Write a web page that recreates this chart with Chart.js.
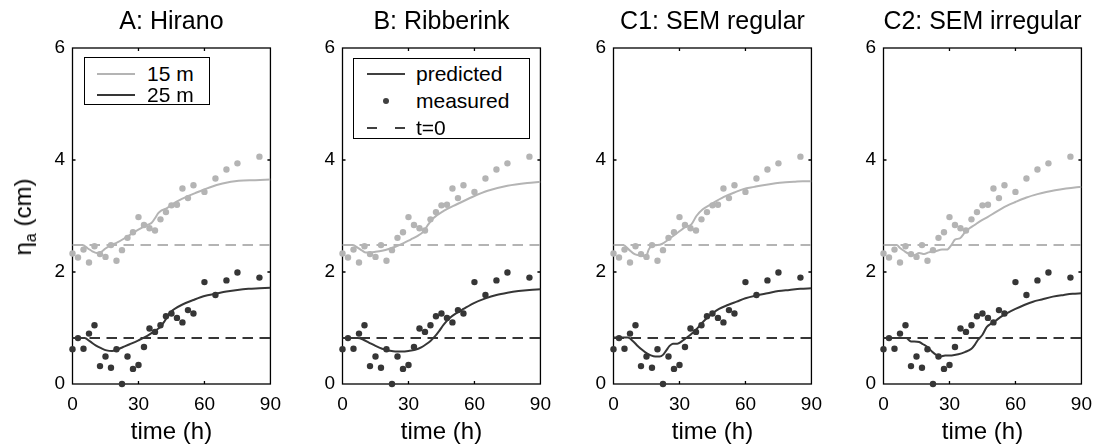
<!DOCTYPE html>
<html><head><meta charset="utf-8">
<script src="https://cdn.jsdelivr.net/npm/chart.js@4.4.0/dist/chart.umd.min.js"></script>
<style>
body{margin:0;background:#fff;width:1101px;height:447px;overflow:hidden;position:relative;font-family:"Liberation Sans",Arial,Helvetica,sans-serif;color:#000}
canvas{position:absolute;top:0}
.lg{position:absolute;border:1.3px solid #000;background:#fff;box-sizing:border-box;z-index:5}
.row{position:absolute;left:0;right:0;height:26px;font-size:21px;line-height:26px}
.row span{position:absolute}
.ln{position:absolute;height:0;border-top:2px solid}
.dot{position:absolute;width:6px;height:6px;border-radius:50%}
#ylab{position:absolute;left:23px;top:217px;transform:translate(-50%,-50%) rotate(-90deg);font-size:24px;white-space:nowrap;line-height:28px;z-index:5}
#ylab sub{font-size:16px;vertical-align:-5px;line-height:0}
</style></head><body>
<div id="ylab">η<sub>a</sub> (cm)</div>
<div class="lg" style="left:84px;top:57px;width:126px;height:48px">
  <div class="row" style="top:3px"><div class="ln" style="left:12px;width:38px;top:12px;border-color:#b4b4b4"></div><span style="left:62px">15 m</span></div>
  <div class="row" style="top:24px"><div class="ln" style="left:12px;width:38px;top:12px;border-color:#363636"></div><span style="left:62px">25 m</span></div>
</div>
<div class="lg" style="left:353px;top:58px;width:177px;height:81px">
  <div class="row" style="top:2px"><div class="ln" style="left:13px;width:38px;top:12px;border-color:#404040"></div><span style="left:62px">predicted</span></div>
  <div class="row" style="top:29px"><div class="dot" style="left:29px;top:10px;background:#404040"></div><span style="left:62px">measured</span></div>
  <div class="row" style="top:56px"><div class="ln" style="left:13px;width:10px;top:12px;border-color:#404040"></div><div class="ln" style="left:41px;width:10px;top:12px;border-color:#404040"></div><span style="left:62px">t=0</span></div>
</div>
<script>
// ---- data ----
const panelTitles = ['A: Hirano', 'B: Ribberink', 'C1: SEM regular', 'C2: SEM irregular'];
const xTickVals = [0, 30, 60, 90];
const yTickVals = [0, 2, 4, 6];
const baseline15 = 2.48;
const baseline25 = 0.82;

const measTime = [0,2.5,5,7.5,10,12.5,15,17.5,20,22.5,25,27.5,30,32.5,35,37.5,40,42.5,45,47.5,50,52.5,55,60,65,70,75,85];
const meas15 = [2.33,2.26,2.40,2.17,2.46,2.32,2.27,2.48,2.20,2.39,2.61,2.71,2.98,2.84,2.78,2.74,2.94,3.07,3.19,3.20,3.49,3.32,3.55,3.43,3.67,3.83,3.94,4.06];
const meas25 = [0.62,0.82,0.63,0.90,1.05,0.32,0.49,0.29,0.62,0.00,0.49,0.27,0.34,0.66,0.99,0.93,1.05,1.21,1.26,1.18,1.10,1.32,1.26,1.82,1.59,1.85,1.99,1.90];

const predA15t = [0,4.5,7,9,11,13,15,17.5,20,24,28,31,34,36,37.5,39,40.5,43,45.3,50.5,56.4,62.3,68.2,75.6,83,90];
const predA15v = [2.48,2.48,2.42,2.37,2.34,2.36,2.42,2.48,2.52,2.61,2.71,2.78,2.84,2.88,2.96,3.05,3.10,3.14,3.21,3.32,3.42,3.51,3.58,3.63,3.64,3.65];
const predA25t = [0,5.5,8,10.5,13,15.5,18,20,23,26,30,34,37.5,40,42,44,46,50,55,60,65,70,75,80,85,90];
const predA25v = [0.82,0.82,0.76,0.69,0.64,0.60,0.59,0.61,0.66,0.71,0.78,0.86,0.95,1.02,1.13,1.26,1.33,1.42,1.50,1.57,1.61,1.65,1.68,1.70,1.71,1.72];

const predB15t = [0,4.7,7,9,10.6,13,15,18,21,24,28,31,34,37,39,41,46,52,59,66,75,84,90];
const predB15v = [2.48,2.48,2.43,2.38,2.35,2.35,2.36,2.38,2.41,2.45,2.52,2.58,2.64,2.73,2.85,2.95,3.09,3.21,3.34,3.45,3.54,3.59,3.61];
const predB25t = [0,7,9.5,12,15,18,21,24,27,30,33,36,38,40,42,44,46,48.5,52,55,60,65,70,75,80,85,90];
const predB25v = [0.82,0.82,0.79,0.74,0.68,0.63,0.60,0.58,0.58,0.59,0.61,0.66,0.71,0.77,0.85,0.95,1.06,1.17,1.27,1.34,1.45,1.53,1.59,1.63,1.66,1.68,1.69];

const predC115t = [0,4.4,7,9.6,12.6,14.8,16,17.5,20,22,25,28,30.5,32.5,35.4,37.7,40.6,44.3,50.2,55,59,64,68,73,77,82,86,90];
const predC115v = [2.48,2.48,2.40,2.32,2.29,2.28,2.40,2.47,2.48,2.50,2.58,2.67,2.74,2.80,2.85,3.00,3.12,3.21,3.34,3.42,3.48,3.52,3.55,3.58,3.60,3.61,3.62,3.62];
const predC125t = [0,6.5,9,11,13,15,17,19,21,22.5,24,25.5,27,29,31,33,35,37.5,40,42.5,45,48,52,56,60,65,70,75,80,85,90];
const predC125v = [0.83,0.83,0.76,0.68,0.61,0.55,0.51,0.49,0.49,0.52,0.60,0.68,0.72,0.72,0.76,0.82,0.88,0.97,1.08,1.18,1.26,1.34,1.41,1.47,1.53,1.58,1.62,1.66,1.68,1.70,1.71];

const predC215t = [0,6,7.5,9.6,11.8,14,16.2,18.5,20.5,23.6,26.6,28.8,31,32.5,34.7,36.9,39.1,41.4,44,47.3,51,56,60,65,70,74,78,83,87,90];
const predC215v = [2.48,2.48,2.43,2.37,2.32,2.30,2.34,2.32,2.35,2.37,2.40,2.40,2.49,2.58,2.60,2.70,2.78,2.84,2.91,2.98,3.07,3.18,3.25,3.33,3.39,3.43,3.46,3.49,3.51,3.52];
const predC225t = [0,10.3,12.5,14,16.2,18,20,22,23.6,25.8,28,31,34,37,40,41.5,43,45,47,49,51,53,56,60,64,68,72,77,82,86,90];
const predC225v = [0.82,0.82,0.76,0.76,0.75,0.71,0.66,0.58,0.53,0.49,0.51,0.51,0.53,0.57,0.63,0.70,0.79,0.88,1.02,1.08,1.13,1.19,1.26,1.34,1.41,1.47,1.51,1.56,1.59,1.61,1.62];

const pred15t = [predA15t, predB15t, predC115t, predC215t];
const pred15v = [predA15v, predB15v, predC115v, predC215v];
const pred25t = [predA25t, predB25t, predC125t, predC225t];
const pred25v = [predA25v, predB25v, predC125v, predC225v];

// ---- styling ----
const LIGHT = '#b4b4b4', DARK = '#363636';
const FONT = '"Liberation Sans", Arial, Helvetica, sans-serif';
const pts = (xs, ys) => xs.map((x, i) => ({x, y: ys[i]}));

const framePlugin = {
  id: 'frame',
  beforeDatasetsDraw(chart) {
    const {ctx, chartArea: a, scales: {x, y}} = chart;
    ctx.save();
    ctx.strokeStyle = '#000';
    ctx.lineWidth = 1.3;
    ctx.strokeRect(a.left, a.top, a.right - a.left, a.bottom - a.top);
    ctx.beginPath();
    xTickVals.slice(1, -1).forEach(v => {
      const px = x.getPixelForValue(v);
      ctx.moveTo(px, a.bottom); ctx.lineTo(px, a.bottom - 3);
      ctx.moveTo(px, a.top); ctx.lineTo(px, a.top + 3);
    });
    yTickVals.slice(1, -1).forEach(v => {
      const py = y.getPixelForValue(v);
      ctx.moveTo(a.left, py); ctx.lineTo(a.left + 3, py);
      ctx.moveTo(a.right, py); ctx.lineTo(a.right - 3, py);
    });
    ctx.stroke();
    ctx.restore();
  }
};

const canvasLeft = [0, 270, 541, 811];

panelTitles.forEach((title, i) => {
  const cv = document.createElement('canvas');
  cv.width = 290; cv.height = 447;
  cv.style.left = canvasLeft[i] + 'px';
  cv.style.width = '290px'; cv.style.height = '447px';
  document.body.appendChild(cv);
  new Chart(cv, {
    type: 'scatter',
    data: {
      datasets: [
        {data: pts(measTime, meas25), showLine: false, pointRadius: 3.2, pointBackgroundColor: DARK, pointBorderWidth: 0, clip: false},
        {data: pts(measTime, meas15), showLine: false, pointRadius: 3.2, pointBackgroundColor: LIGHT, pointBorderWidth: 0, clip: false},
        {data: pts(pred25t[i], pred25v[i]), showLine: true, pointRadius: 0, borderColor: DARK, borderWidth: 2, tension: 0.3, cubicInterpolationMode: 'monotone'},
        {data: pts(pred15t[i], pred15v[i]), showLine: true, pointRadius: 0, borderColor: LIGHT, borderWidth: 2, tension: 0.3, cubicInterpolationMode: 'monotone'},
        {data: pts([0, 90], [baseline25, baseline25]), showLine: true, pointRadius: 0, borderColor: DARK, borderWidth: 2, borderDash: [10.5, 6.5]},
        {data: pts([0, 90], [baseline15, baseline15]), showLine: true, pointRadius: 0, borderColor: LIGHT, borderWidth: 2, borderDash: [10.5, 6.5]}
      ]
    },
    options: {
      responsive: false, devicePixelRatio: 1, animation: false,
      layout: {padding: {left: 0, right: 13.3, top: 0, bottom: 0}},
      plugins: {legend: {display: false}, tooltip: {enabled: false}, title: {display: false}},
      scales: {
        x: {
          type: 'linear', position: 'bottom', min: 0, max: 90,
          afterBuildTicks: s => { s.ticks = xTickVals.map(v => ({value: v})); },
          ticks: {font: {size: 19, family: FONT}, color: '#000', padding: 9, maxRotation: 0, autoSkip: false},
          grid: {display: false, drawTicks: false}, border: {display: false},
          title: {display: true, text: 'time (h)', font: {size: 24, family: FONT}, color: '#000', padding: {top: 0, bottom: 0}},
          afterFit: s => { s.height = 63; }
        },
        xTop: {
          type: 'linear', position: 'top', min: 0, max: 90,
          ticks: {display: false}, grid: {display: false, drawTicks: false}, border: {display: false},
          title: {display: true, text: title, font: {size: 25, family: FONT}, color: '#000', padding: {top: 7.5, bottom: 0}},
          afterFit: s => { s.height = 48; }
        },
        y: {
          type: 'linear', position: 'left', min: 0, max: 6,
          afterBuildTicks: s => { s.ticks = yTickVals.map(v => ({value: v})); },
          ticks: {font: {size: 19, family: FONT}, color: '#000', padding: 7.5},
          grid: {display: false, drawTicks: false}, border: {display: false},
          afterFit: s => { s.width = 72.5; }
        }
      }
    },
    plugins: [framePlugin]
  });
});
</script>
</body></html>
